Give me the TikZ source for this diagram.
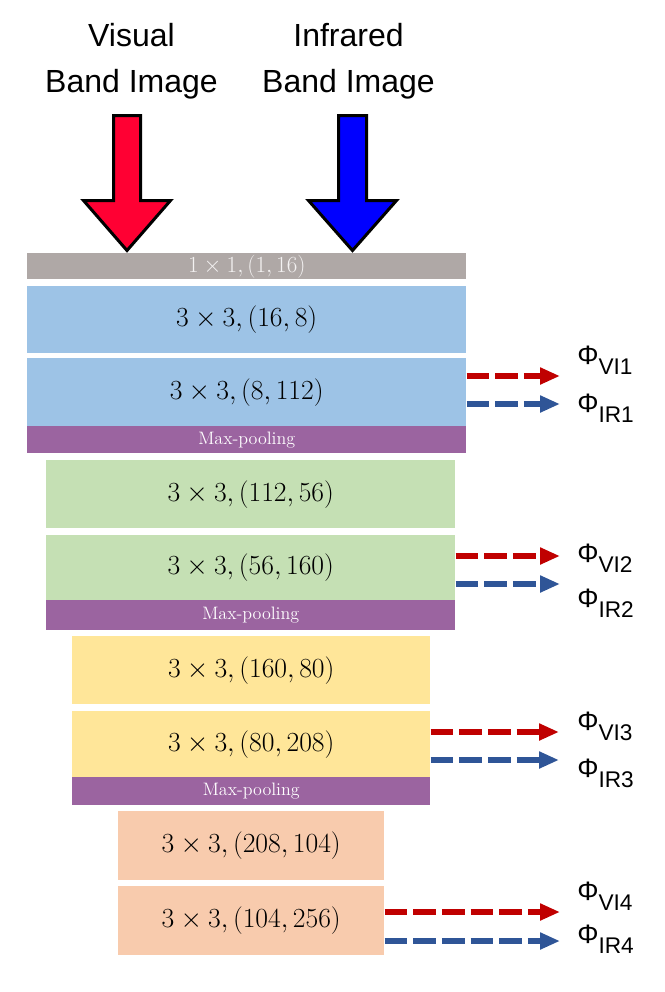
\documentclass[tikz,border=0pt]{standalone}
\usepackage{fontspec}
\newfontfamily\arialfont{Liberation Sans}
\usepackage{tikz}
\usetikzlibrary{arrows.meta, calc}

\newdimen\pxu \pxu=0.75pt
\newcommand\phisub[1]{\raisebox{-8pt}{\fontsize{17}{19}\selectfont #1}}

\definecolor{convgray}{HTML}{AFA8A6}
\definecolor{convtext}{HTML}{F4F2F2}
\definecolor{stageblue}{HTML}{9DC3E6}
\definecolor{stagegreen}{HTML}{C5E0B4}
\definecolor{stageyellow}{HTML}{FFE699}
\definecolor{stageorange}{HTML}{F8CBAD}
\definecolor{poolpurple}{HTML}{9B64A0}
\definecolor{visred}{HTML}{C00000}
\definecolor{irblue}{HTML}{2F5597}
\definecolor{inred}{HTML}{FF0033}
\definecolor{inblue}{HTML}{0000FF}

\begin{document}
\begin{tikzpicture}[x=0.75pt, y=-0.75pt,
    layer/.style={anchor=north west, inner sep=0pt, font=\fontsize{20}{22}\selectfont},
    pool/.style={anchor=north west, inner sep=0pt, fill=poolpurple, text=white, font=\fontsize{13.5}{15}\selectfont},
    feat/.style={line width=4.8pt, dash pattern=on 17pt off 4.5pt, -{Triangle[length=15pt, width=12pt]}},
    phi/.style={anchor=base west, inner sep=0pt, font=\arialfont\fontsize{20}{24}\selectfont},
    title/.style={anchor=north, inner sep=0pt, align=center, font=\arialfont\fontsize{24}{34.5}\selectfont},
    inarrow/.style={line width=2.25pt, line join=miter, draw=black}]
    \useasboundingbox (0,0) rectangle (664,992);

    % inputs
    \node[title] (vistitle) at (131.5,23) {Visual\\Band Image};
    \node[title] (irtitle) at (348.5,23) {Infrared\\Band Image};
    \filldraw[inarrow, fill=inred] (113.5,115.5) -- (140.5,115.5) -- (140.5,200.5) -- (170.5,200.5)
        -- (127,250.5) -- (83.5,200.5) -- (113.5,200.5) -- cycle;
    \filldraw[inarrow, fill=inblue] (338.5,115.5) -- (366.5,115.5) -- (366.5,200.5) -- (396.5,200.5)
        -- (352.5,250.5) -- (308.5,200.5) -- (338.5,200.5) -- cycle;

    % 1x1 conv
    \node[layer, fill=convgray, text=convtext, minimum width=439\pxu, minimum height=26\pxu,
        font=\fontsize{17.5}{19}\selectfont] (conv0) at (27,253) {$1\times1,(1,16)$};

    % stage 1
    \node[layer, fill=stageblue, minimum width=439\pxu, minimum height=67\pxu] (b11) at (27,286) {$3\times3,(16,8)$};
    \node[layer, fill=stageblue, minimum width=439\pxu, minimum height=68\pxu] (b12) at (27,358) {$3\times3,(8,112)$};
    \node[pool, minimum width=439\pxu, minimum height=27\pxu] (mp1) at (27,426) {Max-pooling};

    % stage 2
    \node[layer, fill=stagegreen, minimum width=409\pxu, minimum height=68\pxu] (g21) at (46,460) {$3\times3,(112,56)$};
    \node[layer, fill=stagegreen, minimum width=409\pxu, minimum height=65\pxu] (g22) at (46,535) {$3\times3,(56,160)$};
    \node[pool, minimum width=409\pxu, minimum height=30\pxu] (mp2) at (46,600) {Max-pooling};

    % stage 3
    \node[layer, fill=stageyellow, minimum width=358\pxu, minimum height=68\pxu] (y31) at (72,636) {$3\times3,(160,80)$};
    \node[layer, fill=stageyellow, minimum width=358\pxu, minimum height=66\pxu] (y32) at (72,711) {$3\times3,(80,208)$};
    \node[pool, minimum width=358\pxu, minimum height=28\pxu] (mp3) at (72,777) {Max-pooling};

    % stage 4
    \node[layer, fill=stageorange, minimum width=266\pxu, minimum height=69\pxu] (o41) at (118,811) {$3\times3,(208,104)$};
    \node[layer, fill=stageorange, minimum width=266\pxu, minimum height=69\pxu] (o42) at (118,886) {$3\times3,(104,256)$};

    % feature outputs
    \coordinate (vi1) at (560,376);
    \coordinate (ir1) at (560,404);
    \coordinate (vi2) at (560,556);
    \coordinate (ir2) at (560,584);
    \coordinate (vi3) at (559,732);
    \coordinate (ir3) at (559,760);
    \coordinate (vi4) at (560,912);
    \coordinate (ir4) at (560,941);

    \draw[feat, visred] (b12.east |- vi1) -- (vi1);
    \draw[feat, irblue] (b12.east |- ir1) -- (ir1);
    \draw[feat, visred] (g22.east |- vi2) -- (vi2);
    \draw[feat, irblue] (g22.east |- ir2) -- (ir2);
    \draw[feat, visred] (y32.east |- vi3) -- (vi3);
    \draw[feat, irblue] (y32.east |- ir3) -- (ir3);
    \draw[feat, visred] (o42.east |- vi4) -- (vi4);
    \draw[feat, irblue] (o42.east |- ir4) -- (ir4);

    \node[phi] (phivi1) at (577,364) {Φ\phisub{VI1}};
    \node[phi] (phiir1) at (577,412) {Φ\phisub{IR1}};
    \node[phi] (phivi2) at (577,562) {Φ\phisub{VI2}};
    \node[phi] (phiir2) at (577,607) {Φ\phisub{IR2}};
    \node[phi] (phivi3) at (577,730) {Φ\phisub{VI3}};
    \node[phi] (phiir3) at (577,777) {Φ\phisub{IR3}};
    \node[phi] (phivi4) at (577,900) {Φ\phisub{VI4}};
    \node[phi] (phiir4) at (577,943) {Φ\phisub{IR4}};
\end{tikzpicture}
\end{document}
